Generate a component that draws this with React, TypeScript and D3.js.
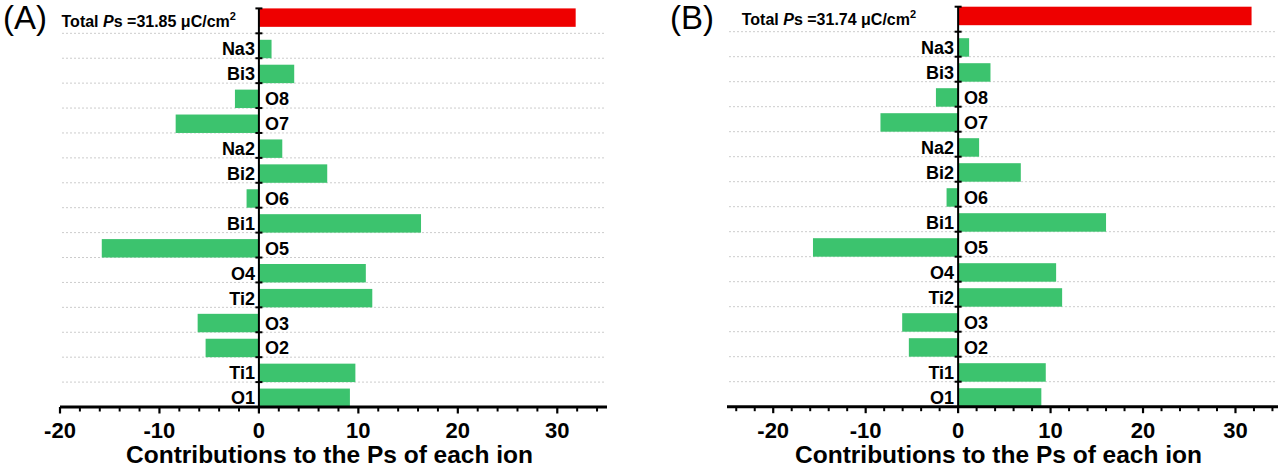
import React from 'react';
import * as d3 from 'd3';

const ions = ['Total', 'Na3', 'Bi3', 'O8', 'O7', 'Na2', 'Bi2', 'O6', 'Bi1', 'O5', 'O4', 'Ti2', 'O3', 'O2', 'Ti1', 'O1'];
const contribA = [31.85, 1.27, 3.55, -2.41, -8.37, 2.35, 6.87, -1.24, 16.3, -15.8, 10.75, 11.4, -6.16, -5.36, 9.7, 9.15];
const contribB = [31.74, 1.19, 3.5, -2.4, -8.4, 2.27, 6.78, -1.25, 16.0, -15.7, 10.6, 11.25, -6.05, -5.33, 9.48, 9.0];
const totalA = '31.85';
const totalB = '31.74';
const xTicks = [-20, -10, 0, 10, 20, 30];

const GREEN = '#3cc36e';
const RED = '#ee0000';
const FONT = '"Liberation Sans", Arial, sans-serif';

type PanelProps = {
  tag: string;
  values: number[];
  total: string;
  domain: [number, number];
  range: [number, number];
  top: number;
  bottom: number;
  totalGap: number;
};

const Panel = ({ tag, values, total, domain, range, top, bottom, totalGap }: PanelProps) => {
  const x = d3.scaleLinear().domain(domain).range(range);
  const y = d3.scaleBand<string>().domain(ions).range([top, bottom]).padding(0);
  const bw = y.bandwidth();
  const barH = bw * 0.74;
  const x0 = x(0);

  const minor = d3.range(Math.ceil(domain[0] / 2) * 2, domain[1] + 0.001, 2).filter((v) => v % 10 !== 0);
  const bounds = d3.range(ions.length).map((i) => top + i * bw);

  return (
    <g>
      <text x={range[0] - 57} y={29} fontSize={33} fontFamily={FONT}>{tag}</text>

      {/* dotted separators */}
      {bounds.slice(1).map((b, i) => (
        <line key={'g' + i} x1={range[0] + 2} x2={range[1] - 2} y1={b} y2={b}
          stroke="#cccccc" strokeWidth={1} strokeDasharray="2,2" />
      ))}

      {/* bars */}
      {ions.map((ion, i) => {
        const v = values[i];
        const isTotal = i === 0;
        const by = isTotal ? y(ion)! : y(ion)! + bw - barH;
        return (
          <rect key={ion} x={Math.min(x(v), x0)} y={by} width={Math.abs(x(v) - x0)} height={barH}
            fill={isTotal ? RED : GREEN} />
        );
      })}

      {/* labels */}
      {ions.map((ion, i) => {
        const v = values[i];
        const by = y(ion)! + bw - barH;
        const cy = by + barH / 2;
        if (i === 0) {
          const ty = y(ion)! + barH;
          return (
            <text key={'l' + ion} x={x0 - totalGap} y={ty} textAnchor="end" fontSize={16}
              fontWeight="bold" fontFamily={FONT}>
              Total <tspan fontStyle="italic">P</tspan>s =<tspan>{total}</tspan> μC/cm
              <tspan fontSize={11} dy={-7}>2</tspan>
            </text>
          );
        }
        return (
          <text key={'l' + ion} x={v >= 0 ? x0 - 4 : x0 + 6} y={cy} dy="0.36em"
            textAnchor={v >= 0 ? 'end' : 'start'} fontSize={18} fontWeight="bold" fontFamily={FONT}>
            {ion}
          </text>
        );
      })}

      {/* y axis */}
      <line x1={x0} x2={x0} y1={top} y2={bottom} stroke="#000" strokeWidth={2} />
      {bounds.map((b, i) => (
        <line key={'yt' + i} x1={x0 - 3.5} x2={x0 + 3.5} y1={b} y2={b} stroke="#000" strokeWidth={2} />
      ))}

      {/* x axis */}
      <line x1={range[0]} x2={range[1]} y1={bottom} y2={bottom} stroke="#000" strokeWidth={3} />
      {xTicks.filter((t) => t >= domain[0] && t <= domain[1]).map((t) => (
        <g key={'xt' + t}>
          <line x1={x(t)} x2={x(t)} y1={bottom} y2={bottom + 6.5} stroke="#000" strokeWidth={2.2} />
          <text x={x(t)} y={bottom + 31} textAnchor="middle" fontSize={22} fontWeight="bold" fontFamily={FONT}>
            {t}
          </text>
        </g>
      ))}
      {minor.map((t) => (
        <line key={'mt' + t} x1={x(t)} x2={x(t)} y1={bottom} y2={bottom + 4.5} stroke="#000" strokeWidth={2} />
      ))}

      <text x={(range[0] + range[1]) / 2 - 4} y={bottom + 56} textAnchor="middle" fontSize={24.5}
        fontWeight="bold" fontFamily={FONT}>
        Contributions to the Ps of each ion
      </text>
    </g>
  );
};

export default function App() {
  return (
    <svg width={1280} height={467} style={{ position: 'absolute', left: 0, top: 0, background: '#fff' }}>
      <rect width={1280} height={467} fill="#fff" />
      <Panel tag="(A)" values={contribA} total={totalA} domain={[-20, 35]} range={[60, 607]}
        top={8.4} bottom={407} totalGap={23} />
      <Panel tag="(B)" values={contribB} total={totalB} domain={[-25, 34.6]} range={[727, 1278]}
        top={6.7} bottom={406.7} totalGap={42} />
    </svg>
  );
}
